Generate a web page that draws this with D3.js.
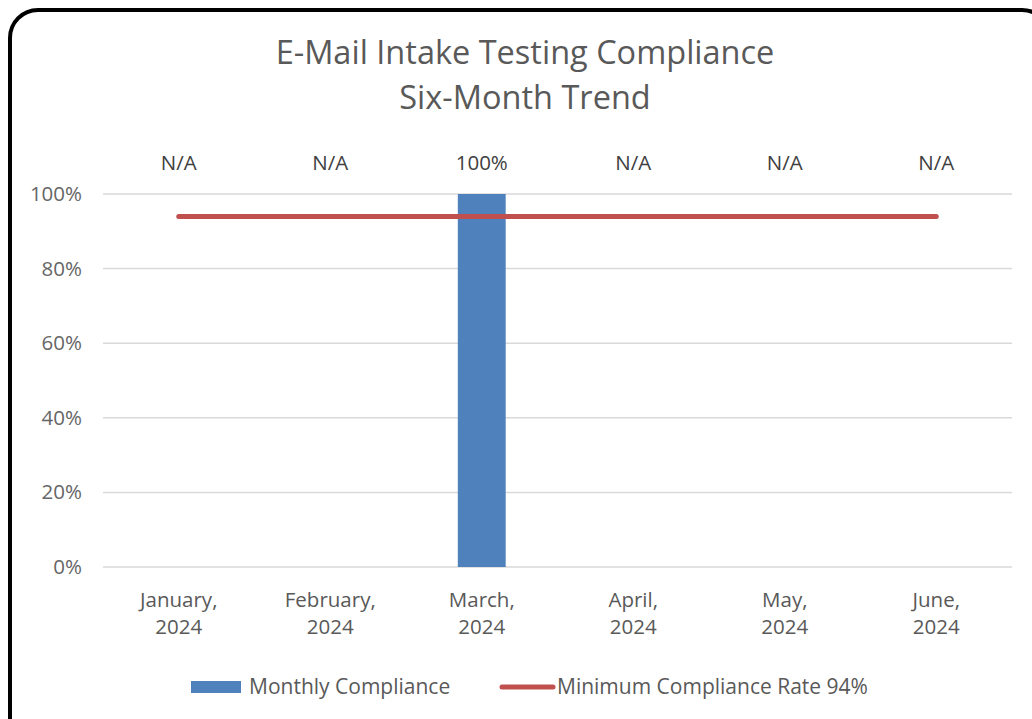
<!DOCTYPE html>
<html><head><meta charset="utf-8">
<script src="https://cdn.jsdelivr.net/npm/d3@7"></script>
<style>body{margin:0;background:#fff;}svg{display:block;}</style>
</head><body>
<svg id="chart" width="1032" height="719"></svg>
<script>
const months = ["January, 2024","February, 2024","March, 2024","April, 2024","May, 2024","June, 2024"];
const monthlyCompliance = [null, null, 1.00, null, null, null];
const minimumRate = [0.94, 0.94, 0.94, 0.94, 0.94, 0.94];
const yTicks = [0, 0.2, 0.4, 0.6, 0.8, 1.0];
const titleLines = ["E-Mail Intake Testing Compliance", "Six-Month Trend"];
const seriesNames = ["Monthly Compliance", "Minimum Compliance Rate 94%"];

const svg = d3.select("#chart");
const font = "'Open Sans', sans-serif";
const m = {left:103, right:1012, top:194, bottom:567};

svg.append("rect").attr("x",10).attr("y",10).attr("width",1040).attr("height",740)
  .attr("rx",28).attr("fill","#fff").attr("stroke","#000").attr("stroke-width",4);

const x = d3.scaleBand().domain(months).range([m.left, m.right]).paddingInner(0.684).paddingOuter(0.342);
const y = d3.scaleLinear().domain([0,1]).range([m.bottom, m.top]);

svg.append("g").selectAll("line").data(yTicks).join("line")
  .attr("x1",m.left).attr("x2",m.right)
  .attr("y1",d=>y(d)).attr("y2",d=>y(d))
  .attr("stroke","#d9d9d9").attr("stroke-width",1.5);

const yAxis = d3.axisLeft(y).tickValues(yTicks).tickFormat(d3.format(".0%")).tickSize(0).tickPadding(0);
const ya = svg.append("g").attr("transform",`translate(82,0)`).call(yAxis);
ya.select(".domain").remove();
ya.selectAll("text").attr("font-family",font).attr("font-size",20.5).attr("fill","#666666");

svg.append("g").selectAll("rect").data(months.map((mo,i)=>({mo,v:monthlyCompliance[i]})).filter(d=>d.v!=null))
  .join("rect")
  .attr("x",d=>x(d.mo)).attr("width",x.bandwidth())
  .attr("y",d=>y(d.v)).attr("height",d=>y(0)-y(d.v))
  .attr("fill","#4F81BD");

const line = d3.line().x((d,i)=>x(months[i])+x.bandwidth()/2).y(d=>y(d));
svg.append("path").datum(minimumRate).attr("d",line)
  .attr("fill","none").attr("stroke","#C0504D").attr("stroke-width",5).attr("stroke-linecap","round");

svg.append("g").selectAll("text").data(months.map((mo,i)=>({mo,v:monthlyCompliance[i]})))
  .join("text")
  .attr("x",d=>x(d.mo)+x.bandwidth()/2).attr("y",170)
  .attr("text-anchor","middle").attr("font-family",font).attr("font-size",20.5).attr("fill","#404040")
  .text(d=>d.v==null?"N/A":d3.format(".0%")(d.v));

const xl = svg.append("g").selectAll("text").data(months).join("text")
  .attr("x",d=>x(d)+x.bandwidth()/2).attr("y",607)
  .attr("text-anchor","middle").attr("font-family",font).attr("font-size",20.5).attr("fill","#595959");
xl.each(function(d){
  const parts = d.split(" ");
  const t = d3.select(this);
  t.append("tspan").attr("x",x(d)+x.bandwidth()/2).attr("dy",0).text(parts[0]);
  t.append("tspan").attr("x",x(d)+x.bandwidth()/2).attr("dy",27).text(parts[1]);
});

svg.append("g").selectAll("text").data(titleLines).join("text")
  .attr("x",525).attr("y",(d,i)=>64+i*45)
  .attr("text-anchor","middle").attr("font-family",font).attr("font-size",32.5).attr("fill","#595959")
  .text(d=>d);

const lg = svg.append("g");
lg.append("rect").attr("x",191).attr("y",681).attr("width",50).attr("height",12).attr("fill","#4F81BD");
lg.append("text").attr("x",249).attr("y",694).attr("font-family",font).attr("font-size",21).attr("fill","#595959").text(seriesNames[0]);
lg.append("line").attr("x1",502).attr("x2",553).attr("y1",687).attr("y2",687)
  .attr("stroke","#C0504D").attr("stroke-width",5).attr("stroke-linecap","round");
lg.append("text").attr("x",557).attr("y",694).attr("font-family",font).attr("font-size",21).attr("fill","#595959").text(seriesNames[1]);
</script>
</body></html>
